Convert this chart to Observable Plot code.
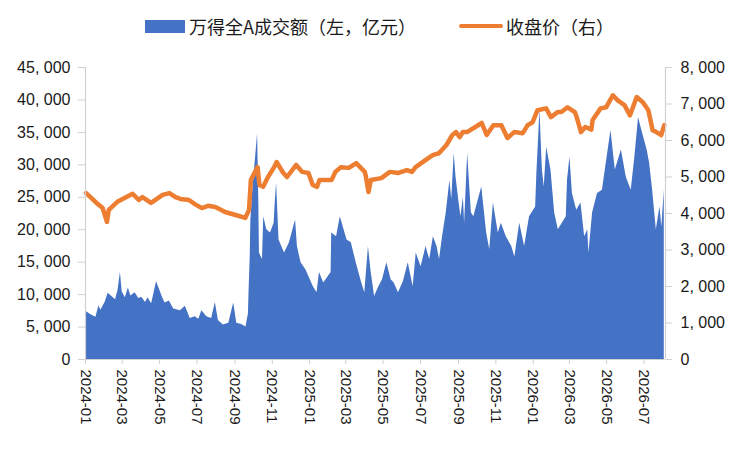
<!DOCTYPE html>
<html><head><meta charset="utf-8">
<script src="https://cdn.jsdelivr.net/npm/d3@7"></script>
<script src="https://cdn.jsdelivr.net/npm/@observablehq/plot@0.6"></script>
<style>
body{margin:0;background:#fff;}
#wrap{width:751px;}
#legend{position:relative;height:50px;font-family:"Noto Sans CJK SC",sans-serif;font-size:18px;color:#1a1a1a;}
#legend .sw1{position:absolute;left:145px;top:20px;width:40px;height:13px;background:#4472C4;}
#legend .sw2{position:absolute;left:459px;top:24px;width:44px;height:4px;border-radius:2px;background:#ED7D31;}
#legend .t{position:absolute;top:13px;line-height:26px;white-space:nowrap;}
</style></head><body>
<div id="wrap">
<div id="legend"><div class="sw1"></div><div class="t" style="left:189px">万得全A成交额（左，亿元）</div><div class="sw2"></div><div class="t" style="left:506px">收盘价（右）</div></div>
<div id="chart"></div>
</div>
<script>
const turnoverDates = ["2024-01-02","2024-01-10","2024-01-18","2024-01-23","2024-01-26","2024-02-02","2024-02-07","2024-02-19","2024-02-23","2024-02-27","2024-03-01","2024-03-06","2024-03-11","2024-03-15","2024-03-22","2024-03-28","2024-04-02","2024-04-08","2024-04-12","2024-04-18","2024-04-26","2024-05-06","2024-05-10","2024-05-17","2024-05-24","2024-06-04","2024-06-12","2024-06-20","2024-06-28","2024-07-04","2024-07-09","2024-07-17","2024-07-25","2024-07-31","2024-08-05","2024-08-13","2024-08-22","2024-08-30","2024-09-04","2024-09-12","2024-09-19","2024-09-23","2024-09-24","2024-09-26","2024-09-27","2024-09-30","2024-10-08","2024-10-10","2024-10-11","2024-10-16","2024-10-18","2024-10-23","2024-10-29","2024-11-04","2024-11-06","2024-11-08","2024-11-12","2024-11-21","2024-11-29","2024-12-09","2024-12-12","2024-12-18","2024-12-26","2025-01-07","2025-01-13","2025-01-17","2025-01-24","2025-02-05","2025-02-06","2025-02-14","2025-02-20","2025-03-03","2025-03-10","2025-03-18","2025-03-27","2025-04-01","2025-04-07","2025-04-11","2025-04-17","2025-04-24","2025-04-30","2025-05-07","2025-05-14","2025-05-19","2025-05-26","2025-06-03","2025-06-11","2025-06-19","2025-06-24","2025-07-02","2025-07-10","2025-07-16","2025-07-22","2025-07-28","2025-08-01","2025-08-06","2025-08-12","2025-08-18","2025-08-21","2025-08-25","2025-08-28","2025-09-02","2025-09-05","2025-09-09","2025-09-11","2025-09-16","2025-09-22","2025-09-26","2025-10-09","2025-10-17","2025-10-22","2025-10-28","2025-11-05","2025-11-10","2025-11-18","2025-11-27","2025-12-02","2025-12-10","2025-12-18","2025-12-26","2026-01-05","2026-01-07","2026-01-12","2026-01-16","2026-01-19","2026-01-23","2026-01-30","2026-02-05","2026-02-11","2026-02-24","2026-02-26","2026-03-02","2026-03-06","2026-03-13","2026-03-20","2026-03-26","2026-03-31","2026-04-02","2026-04-08","2026-04-16","2026-04-24","2026-05-04","2026-05-08","2026-05-15","2026-05-25","2026-06-02","2026-06-10","2026-06-16","2026-06-22","2026-06-26","2026-07-06","2026-07-10","2026-07-15","2026-07-21","2026-07-27","2026-07-30","2026-08-03"];
const turnoverValues = [7400,6900,6500,8300,7600,8800,10200,9200,10600,13400,10400,9500,11000,9800,10300,9400,9600,8800,9500,8600,12000,9500,8700,9000,7800,7500,8200,6300,6600,6200,7500,6600,6300,8800,6000,5300,5600,8700,5600,5400,5000,7000,10300,16000,21500,25900,34800,24100,16400,15400,22000,20000,19500,21000,24500,27200,18400,16400,18000,21500,17400,14900,13800,11200,10300,13400,11800,13400,19500,18900,22000,18400,18000,14900,11800,10300,17400,13800,9700,11200,12300,14900,12300,11800,10300,12000,14900,11200,16400,14300,17400,15400,18900,17400,15400,18900,22600,27600,24600,31800,28100,24100,22000,25000,21000,31800,22600,22000,26600,19500,16900,24100,19500,21000,18900,17400,15800,21000,17400,22000,23500,28700,38400,29200,26600,32700,29200,22600,20000,22000,27600,31200,25600,23000,24100,18900,20000,16400,22600,25600,26100,32700,35300,29200,32300,28100,26100,31200,37300,35800,32300,30300,26100,20000,23500,20400,26100];

const priceDates = ["2024-01-02","2024-01-09","2024-01-19","2024-01-29","2024-02-05","2024-02-08","2024-02-22","2024-03-04","2024-03-18","2024-03-28","2024-04-03","2024-04-17","2024-05-06","2024-05-17","2024-05-27","2024-06-04","2024-06-18","2024-06-28","2024-07-09","2024-07-19","2024-07-31","2024-08-16","2024-09-02","2024-09-18","2024-09-24","2024-09-27","2024-10-08","2024-10-11","2024-10-17","2024-10-25","2024-11-04","2024-11-08","2024-11-19","2024-11-25","2024-12-10","2024-12-20","2024-12-30","2025-01-06","2025-01-13","2025-01-17","2025-02-06","2025-02-12","2025-02-21","2025-03-06","2025-03-18","2025-04-01","2025-04-03","2025-04-07","2025-04-11","2025-04-28","2025-05-12","2025-05-26","2025-06-09","2025-06-17","2025-06-23","2025-07-09","2025-07-21","2025-07-31","2025-08-12","2025-08-22","2025-08-28","2025-09-03","2025-09-08","2025-09-15","2025-10-09","2025-10-17","2025-10-28","2025-11-10","2025-11-20","2025-12-01","2025-12-15","2025-12-23","2025-12-31","2026-01-08","2026-01-22","2026-01-30","2026-02-10","2026-02-16","2026-02-26","2026-03-10","2026-03-13","2026-03-20","2026-03-27","2026-04-06","2026-04-08","2026-04-21","2026-04-30","2026-05-11","2026-05-19","2026-05-30","2026-06-08","2026-06-19","2026-06-29","2026-07-08","2026-07-15","2026-07-21","2026-07-29","2026-08-03"];
const priceValues = [4560,4450,4290,4150,3770,4100,4320,4420,4540,4370,4450,4290,4510,4560,4450,4400,4370,4250,4150,4210,4180,4040,3960,3880,4100,4920,5270,4780,4730,5000,5270,5410,5110,5000,5330,5140,5110,4780,4730,4920,4920,5140,5270,5250,5380,5140,5000,4590,4920,4970,5140,5110,5190,5140,5270,5460,5600,5650,5870,6150,6230,6090,6230,6230,6480,6150,6420,6420,6070,6230,6200,6420,6500,6830,6880,6640,6780,6780,6910,6780,6640,6230,6370,6300,6560,6880,6910,7240,7100,6970,6690,7190,7050,6830,6280,6230,6150,6420];

const leftTicks = [0,5000,10000,15000,20000,25000,30000,35000,40000,45000];
const rightTicks = [0,1000,2000,3000,4000,5000,6000,7000,8000];
const xTickLabels = ["2024-01","2024-03","2024-05","2024-07","2024-09","2024-11","2025-01","2025-03","2025-05","2025-07","2025-09","2025-11","2026-01","2026-03","2026-05","2026-07"];

const parse = d3.utcParse("%Y-%m-%d");
const turnover = turnoverDates.map((d, i) => ({date: parse(d), value: turnoverValues[i]}));
const price = priceDates.map((d, i) => ({date: parse(d), value: priceValues[i]}));
const K = 45000 / 8000;
const fmt = v => d3.format(",")(v).replace(",", ", ");
const xStart = parse("2024-01-01"), xEnd = parse("2026-08-05");
const axisColor = "#d0d0d0";

const chart = Plot.plot({
  width: 751, height: 401,
  marginTop: 17, marginBottom: 92, marginLeft: 85, marginRight: 86,
  style: {fontFamily: "'Liberation Sans', Arial, sans-serif", fontSize: "16px", color: "#1a1a1a", background: "#fff"},
  x: {type: "utc", domain: [xStart, xEnd]},
  y: {domain: [0, 45000]},
  marks: [
    Plot.areaY(turnover, {x: "date", y: "value", fill: "#4472C4"}),
    Plot.lineY(price, {x: "date", y: d => d.value * K, stroke: "#ED7D31", strokeWidth: 4.5, strokeLinejoin: "round", strokeLinecap: "round"}),
    Plot.ruleY([0], {stroke: axisColor, strokeWidth: 1.2}),
    Plot.ruleX([xStart, xEnd], {stroke: axisColor, strokeWidth: 1.2}),
    Plot.axisY({anchor: "left", ticks: leftTicks, tickFormat: fmt, tickSize: 7, tickPadding: 8, stroke: axisColor, fill: "#1a1a1a", label: null}),
    Plot.axisY({anchor: "right", ticks: rightTicks.map(v => v * K), tickFormat: d => fmt(Math.round(d / K)), tickSize: 6, tickPadding: 9, stroke: axisColor, fill: "#1a1a1a", label: null}),
    Plot.axisX({ticks: xTickLabels.map(s => parse(s + "-01")), tickFormat: d3.utcFormat("%Y-%m"), tickRotate: 90, tickSize: 5, tickPadding: 5, stroke: axisColor, fill: "#1a1a1a", fontSize: 15, label: null})
  ]
});
document.getElementById("chart").appendChild(chart);
</script>
</body></html>
